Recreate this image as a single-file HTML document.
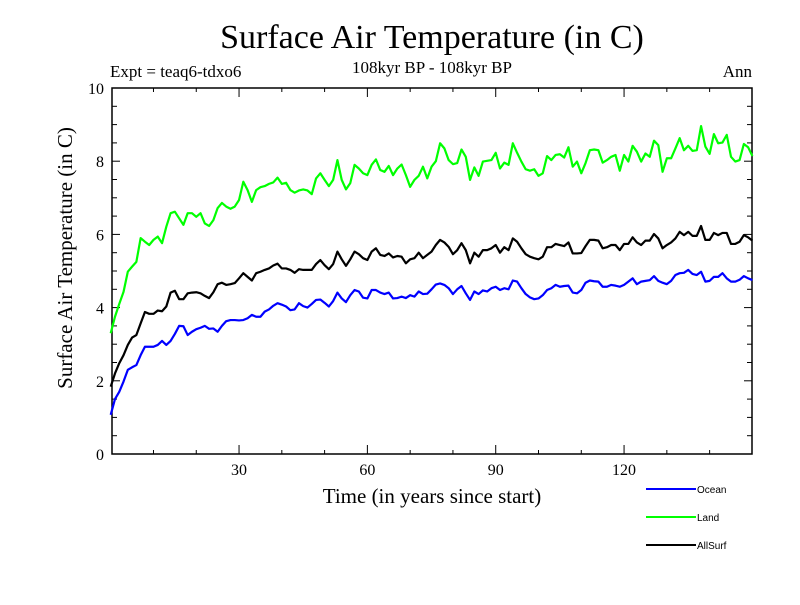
<!DOCTYPE html>
<html><head><meta charset="utf-8"><style>
body{margin:0;background:#fff;width:800px;height:600px;overflow:hidden}
svg text{font-family:"Liberation Serif",serif}
</style></head><body>
<svg id="chart" width="800" height="600" xmlns="http://www.w3.org/2000/svg">
<text x="432" y="48" font-size="34" text-anchor="middle">Surface Air Temperature (in C)</text>
<text x="110" y="77" font-size="17">Expt = teaq6-tdxo6</text>
<text x="432" y="73" font-size="17" text-anchor="middle">108kyr BP - 108kyr BP</text>
<text x="752" y="77" font-size="17" text-anchor="end">Ann</text>
<text x="432" y="503" font-size="21" text-anchor="middle">Time (in years since start)</text>
<text transform="translate(72,258) rotate(-90)" font-size="21" text-anchor="middle">Surface Air Temperature (in C)</text>
<g id="axes"></g>
<g id="series"></g>
<g id="legend"></g>
</svg>
<script>
const xTicks=[30,60,90,120];
const yTicks=[0,2,4,6,8,10];
const seriesNames=["Ocean","Land","AllSurf"];
const seriesColors=["#0000ff","#00ff00","#000000"];
const ocean=[1.07,1.5,1.7,1.98,2.3,2.37,2.43,2.7,2.93,2.93,2.93,2.98,3.09,2.98,3.09,3.28,3.5,3.49,3.25,3.34,3.41,3.45,3.5,3.42,3.43,3.34,3.5,3.63,3.66,3.66,3.65,3.66,3.71,3.8,3.75,3.75,3.89,3.95,4.05,4.12,4.08,4.03,3.93,3.95,4.12,4.04,4.0,4.1,4.21,4.22,4.13,4.03,4.18,4.41,4.25,4.15,4.34,4.48,4.44,4.27,4.25,4.48,4.48,4.41,4.37,4.41,4.25,4.26,4.3,4.26,4.34,4.3,4.44,4.37,4.38,4.5,4.63,4.66,4.62,4.53,4.37,4.5,4.59,4.39,4.21,4.44,4.37,4.47,4.44,4.53,4.57,4.48,4.53,4.5,4.74,4.71,4.53,4.37,4.28,4.23,4.25,4.34,4.48,4.53,4.62,4.57,4.59,4.6,4.41,4.39,4.48,4.68,4.74,4.72,4.71,4.57,4.57,4.62,4.6,4.57,4.62,4.71,4.8,4.64,4.71,4.73,4.75,4.86,4.73,4.68,4.64,4.73,4.89,4.94,4.95,5.03,4.92,4.89,4.98,4.71,4.73,4.84,4.84,4.94,4.8,4.71,4.71,4.76,4.86,4.8,4.75];
const land=[3.3,3.75,4.1,4.43,4.98,5.12,5.25,5.9,5.8,5.71,5.85,5.94,5.76,6.21,6.58,6.62,6.44,6.26,6.58,6.58,6.48,6.58,6.3,6.23,6.39,6.72,6.86,6.76,6.7,6.76,6.94,7.44,7.21,6.89,7.21,7.29,7.32,7.38,7.42,7.55,7.38,7.41,7.21,7.14,7.2,7.23,7.2,7.1,7.53,7.67,7.49,7.32,7.49,8.03,7.49,7.23,7.4,7.9,7.8,7.67,7.62,7.9,8.05,7.76,7.71,7.87,7.62,7.8,7.91,7.62,7.3,7.49,7.6,7.85,7.53,7.85,8.0,8.49,8.35,8.03,7.92,7.95,8.32,8.12,7.49,7.83,7.6,7.99,8.01,8.03,8.23,7.8,7.96,7.9,8.49,8.23,7.99,7.78,7.74,7.78,7.6,7.67,8.14,8.03,8.17,8.19,8.1,8.38,7.85,7.99,7.67,7.95,8.3,8.32,8.3,7.96,8.03,8.12,8.17,7.74,8.17,7.99,8.42,8.26,7.99,8.21,8.12,8.56,8.44,7.71,8.08,8.08,8.35,8.63,8.3,8.42,8.28,8.3,8.96,8.4,8.2,8.74,8.49,8.51,8.72,8.12,7.99,8.03,8.47,8.38,8.14];
const allsurf=[1.84,2.2,2.48,2.7,2.98,3.18,3.25,3.57,3.88,3.83,3.83,3.92,3.9,4.03,4.41,4.46,4.23,4.23,4.39,4.41,4.42,4.39,4.32,4.26,4.42,4.64,4.68,4.62,4.64,4.67,4.8,4.94,4.84,4.74,4.94,4.98,5.03,5.07,5.15,5.2,5.07,5.07,5.03,4.95,5.05,5.03,5.03,5.03,5.19,5.3,5.16,5.05,5.19,5.53,5.32,5.14,5.32,5.53,5.46,5.35,5.3,5.53,5.62,5.44,5.41,5.48,5.37,5.41,5.39,5.21,5.32,5.35,5.5,5.35,5.44,5.53,5.71,5.85,5.78,5.66,5.46,5.57,5.76,5.57,5.21,5.5,5.39,5.57,5.57,5.62,5.71,5.5,5.65,5.57,5.89,5.8,5.62,5.46,5.39,5.35,5.32,5.39,5.65,5.65,5.74,5.71,5.68,5.78,5.48,5.48,5.49,5.68,5.85,5.85,5.83,5.62,5.65,5.71,5.71,5.57,5.74,5.74,5.92,5.78,5.71,5.83,5.83,6.01,5.89,5.62,5.71,5.78,5.89,6.07,5.98,6.07,5.96,5.96,6.23,5.85,5.85,6.04,5.98,6.04,6.04,5.74,5.74,5.8,5.98,5.92,5.83];
const allSeries=[ocean,land,allsurf];

const NS="http://www.w3.org/2000/svg";
const X0=112,X1=752,Y0=454,Y1=88;
function xs(t){return 110.7+t*4.278;}
function ys(v){return Y0-(v/10)*(Y0-Y1);}
function mk(tag,attrs,parent){const e=document.createElementNS(NS,tag);for(const k in attrs)e.setAttribute(k,attrs[k]);parent.appendChild(e);return e;}
const axes=document.getElementById('axes');
const frame=mk('rect',{x:X0,y:Y1,width:X1-X0,height:Y0-Y1,fill:'none',stroke:'#000','stroke-width':1.5},axes);


for(let v=0;v<=10;v+=0.5){
  const major=v%2===0;const len=major?8:5;
  mk('line',{x1:X0,x2:X0+len,y1:ys(v),y2:ys(v),stroke:'#000','stroke-width':1},axes);
  mk('line',{x1:X1,x2:X1-len,y1:ys(v),y2:ys(v),stroke:'#000','stroke-width':1},axes);
}
yTicks.forEach(v=>{
  const t=mk('text',{x:X0-8,y:ys(v)+6,'font-size':16,'text-anchor':'end'},axes);
  t.textContent=v;
  
  
});
for(let t=10;t<150;t+=10){
  const major=t%30===0;const len=major?9:4;
  mk('line',{x1:xs(t),x2:xs(t),y1:Y0,y2:Y0-len,stroke:'#000','stroke-width':1},axes);
  mk('line',{x1:xs(t),x2:xs(t),y1:Y1,y2:Y1+len,stroke:'#000','stroke-width':1},axes);
}
xTicks.forEach(v=>{
  const t=mk('text',{x:xs(v),y:475,'font-size':16,'text-anchor':'middle'},axes);
  t.textContent=v;
  
  
});
const sg=document.getElementById('series');
allSeries.forEach((s,i)=>{
  const pts=s.map((v,k)=>xs(k)+','+ys(v)).join(' ');
  const p=mk('polyline',{points:pts,fill:'none',stroke:seriesColors[i],'stroke-width':2.2,'stroke-linejoin':'round'},sg);
  
  
});
const lg=document.getElementById('legend');
seriesNames.forEach((n,i)=>{
  const y=489+i*28;
  const l=mk('line',{x1:646,x2:696,y1:y,y2:y,stroke:seriesColors[i],'stroke-width':2},lg);
  
  
  const t=mk('text',{x:697,y:y+4,'font-size':10},lg);
  t.setAttribute('style','font-family:"Liberation Sans",sans-serif');
  t.textContent=n;
  
  
});
</script>
</body></html>
